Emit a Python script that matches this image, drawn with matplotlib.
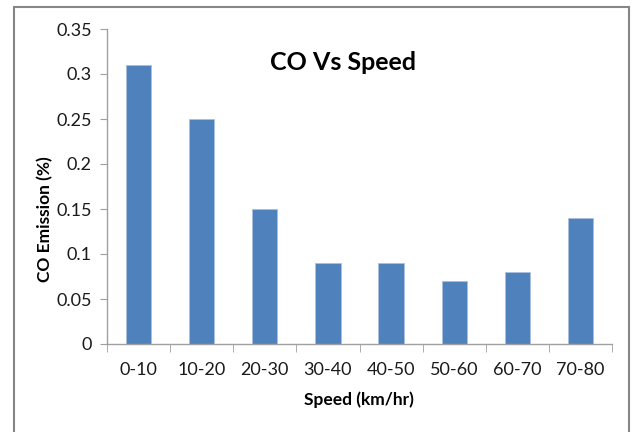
import matplotlib
matplotlib.use("Agg")
import matplotlib.pyplot as plt
from matplotlib.patches import Rectangle

# CO emission per speed band
speed_bands = ["0-10", "10-20", "20-30", "30-40", "40-50", "50-60", "60-70", "70-80"]
co_emission = [0.31, 0.25, 0.15, 0.09, 0.09, 0.07, 0.08, 0.14]
y_ticks = [0, 0.05, 0.1, 0.15, 0.2, 0.25, 0.3, 0.35]
y_labels = ["0", "0.05", "0.1", "0.15", "0.2", "0.25", "0.3", "0.35"]

plt.rcParams['font.family'] = ['Lato', 'DejaVu Sans']

fig = plt.figure(figsize=(6.32, 4.32), dpi=100)
ax = fig.add_axes([107/632, 88/432, 505/632, 315/432])

x = list(range(len(speed_bands)))
ax.bar(x, co_emission, width=0.4, color='#4F81BD', edgecolor='#A9C0DE', linewidth=0.6)

ax.set_xlim(-0.5, len(speed_bands) - 0.5)
ax.set_ylim(0, 0.35)
ax.set_yticks(y_ticks)
ax.set_yticklabels(y_labels)
ax.set_xticks(x)
ax.set_xticklabels(speed_bands)
ax.set_xticks([i - 0.5 for i in range(len(speed_bands) + 1)], minor=True)

ax.tick_params(axis='x', which='major', length=0, pad=13, labelsize=13, labelcolor='#1a1a1a')
ax.tick_params(axis='x', which='minor', length=6, color='#A0A0A0', direction='out')
ax.tick_params(axis='y', length=5, color='#A0A0A0', pad=6, labelsize=13, labelcolor='#1a1a1a')

for side in ['top', 'right']:
    ax.spines[side].set_visible(False)
for side in ['left', 'bottom']:
    ax.spines[side].set_color('#A0A0A0')
    ax.spines[side].set_linewidth(1.0)

fig.text(359/632, 1 - 400/432, "Speed (km/hr)", ha='center', va='center',
         fontsize=12.5, fontweight='bold')
fig.text(45/632, 1 - 219/432, "CO Emission (%)", ha='center', va='center',
         rotation=90, fontsize=12.5, fontweight='bold')
fig.text(343/632, 1 - 62/432, "CO Vs Speed", ha='center', va='center',
         fontsize=18, fontweight='bold')

# chart border
fig.patches.append(Rectangle((14/632, -0.05), 615/632, 0.05 + (432 - 7)/432,
                             transform=fig.transFigure, fill=False,
                             edgecolor='#868686', linewidth=1.5))

fig.savefig("out.png", dpi=100)
